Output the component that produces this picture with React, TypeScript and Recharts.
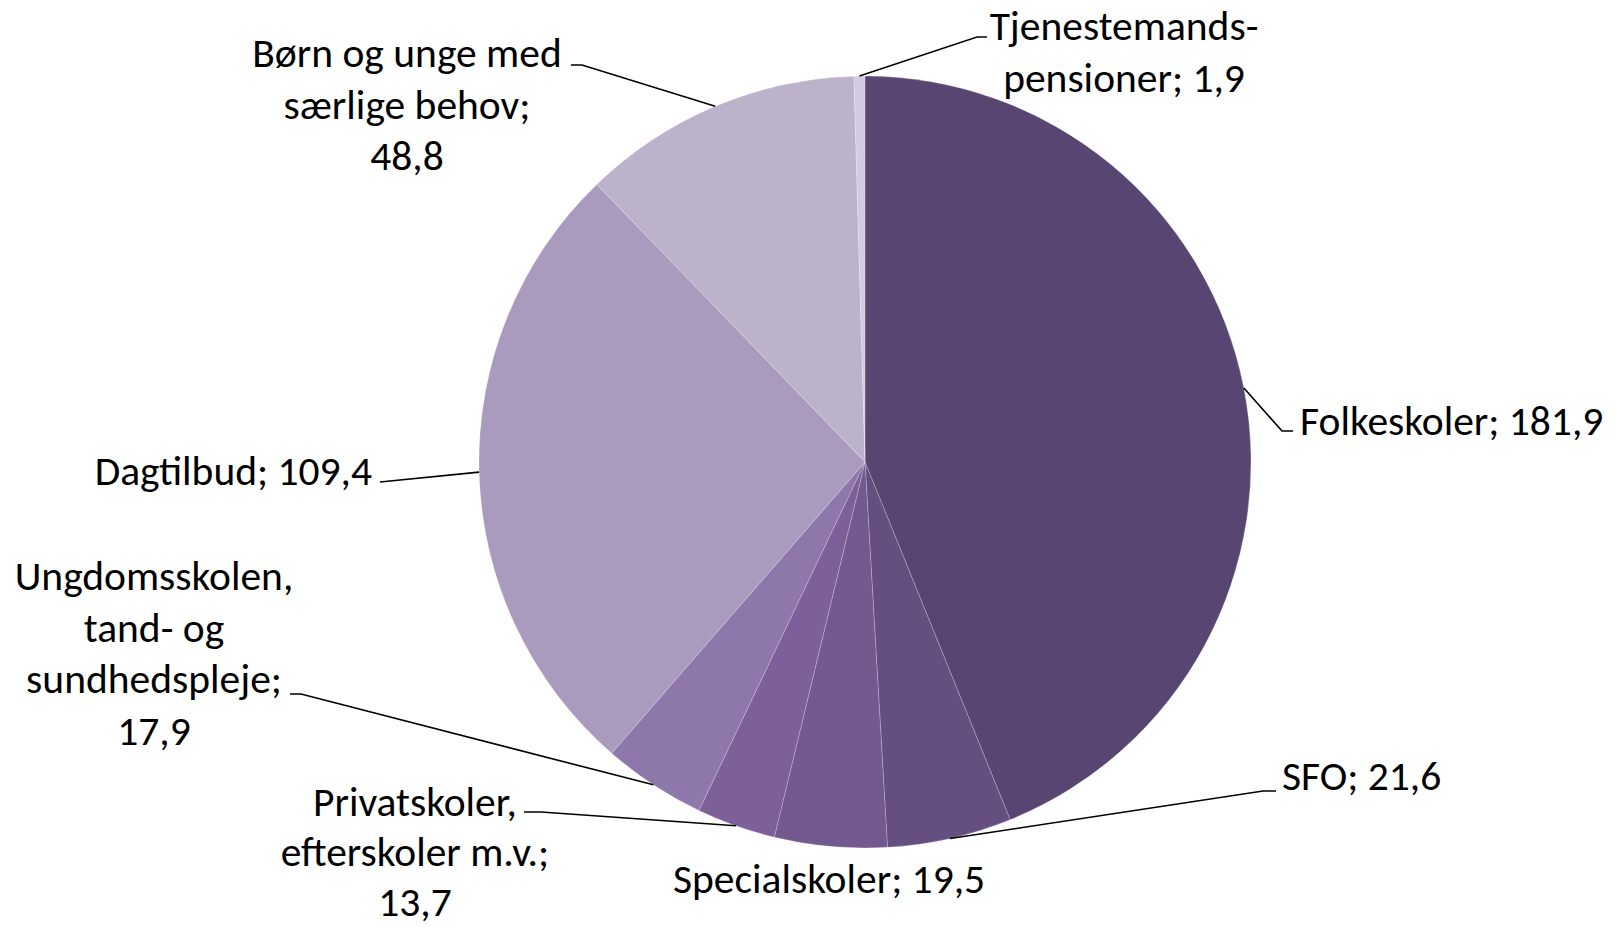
import React from 'react';
import { PieChart, Pie, Cell } from 'recharts';

const categories = [
  'Folkeskoler',
  'SFO',
  'Specialskoler',
  'Privatskoler, efterskoler m.v.',
  'Ungdomsskolen, tand- og sundhedspleje',
  'Dagtilbud',
  'Børn og unge med særlige behov',
  'Tjenestemands-pensioner',
];
const values = [181.9, 21.6, 19.5, 13.7, 17.9, 109.4, 48.8, 1.9];
const colors = ['#594571', '#654f80', '#72598f', '#7d5f99', '#8e77aa', '#a99abe', '#bdb2cc', '#d3cce0'];

const data = categories.map((name, i) => ({ name, value: values[i] }));

const W = 1620;
const H = 927;
const CX = 865;
const CY = 462;
const R = 386;
const FONT_SIZE = 41.5;
const LINE_H = 51.5;
const FONT = 'Carlito, Calibri, Lato, sans-serif';

// label layout, offsets relative to pie centre
type LabelLayout = {
  words: number[];
  elbow?: [number, number];
  tick?: [number, number];
  tx: number;
  ty: number;
  lh?: number;
  anchor: 'start' | 'middle' | 'end';
};
const labelLayout: LabelLayout[] = [
  { words: [3], elbow: [417, -31], tick: [428, -31], tx: 435, ty: -27, anchor: 'start' },
  { words: [3], elbow: [398, 329], tick: [411, 329], tx: 417, ty: 328, anchor: 'start' },
  { words: [3], tx: -36, ty: 431, anchor: 'middle' },
  { words: [1, 2, 1], elbow: [-324, 350], tick: [-341, 350], tx: -450, ty: 354, lh: 50, anchor: 'middle' },
  { words: [1, 2, 1, 1], elbow: [-564, 232], tick: [-575, 232], tx: -711, ty: 128, anchor: 'middle' },
  { words: [3], elbow: [-475, 19], tick: [-485, 20], tx: -493, ty: 23, anchor: 'end' },
  { words: [4, 2, 1], elbow: [-283, -397], tick: [-294, -397], tx: -458, ty: -395, anchor: 'middle' },
  { words: [1, 2], elbow: [112, -425], tick: [122, -425], tx: 259, ty: -422, anchor: 'middle' },
];

const fmt = (v: number) => v.toFixed(1).replace('.', ',');
const RAD = Math.PI / 180;

function splitLines(text: string, counts: number[]): string[] {
  const tokens = text.split(/\s+|(?<=-)(?=\p{L})/u).filter(Boolean);
  const lines: string[] = [];
  let k = 0;
  for (const c of counts) {
    lines.push(tokens.slice(k, k + c).join(' '));
    k += c;
  }
  if (k < tokens.length) lines[lines.length - 1] += ' ' + tokens.slice(k).join(' ');
  return lines;
}

const renderLabel = (props: any) => {
  const { cx, cy, midAngle, outerRadius, index, name, value } = props;
  const lay = labelLayout[index];
  const lh = lay.lh ?? LINE_H;
  const text = `${name}; ${fmt(value)}`;
  const lines = splitLines(text, lay.words);
  const ex = cx + outerRadius * Math.cos(-midAngle * RAD);
  const ey = cy + outerRadius * Math.sin(-midAngle * RAD);
  return (
    <g key={`lbl-${index}`}>
      {lay.elbow && lay.tick && (
        <polyline
          points={`${ex},${ey} ${cx + lay.elbow[0]},${cy + lay.elbow[1]} ${cx + lay.tick[0]},${cy + lay.tick[1]}`}
          fill="none"
          stroke="#000"
          strokeWidth={1.6}
        />
      )}
      <text
        x={cx + lay.tx}
        y={cy + lay.ty}
        textAnchor={lay.anchor}
        fontFamily={FONT}
        fontSize={FONT_SIZE}
        fill="#000"
      >
        {lines.map((ln, i) => (
          <tspan key={i} x={cx + lay.tx} y={cy + lay.ty + i * lh}>
            {ln}
          </tspan>
        ))}
      </text>
    </g>
  );
};

export default function App() {
  return (
    <div style={{ position: 'absolute', left: 0, top: 0, width: W, height: H, background: '#fff' }}>
      <PieChart width={W} height={H} margin={{ top: 0, right: 0, bottom: 0, left: 0 }}>
        <Pie
          data={data}
          dataKey="value"
          nameKey="name"
          cx={CX}
          cy={CY}
          outerRadius={R}
          startAngle={90}
          endAngle={-270}
          stroke="#ffffff"
          strokeWidth={0.6}
          strokeOpacity={0.35}
          label={renderLabel}
          labelLine={false}
          isAnimationActive={false}
        >
          {data.map((d, i) => (
            <Cell key={d.name} fill={colors[i]} />
          ))}
        </Pie>
      </PieChart>
    </div>
  );
}
